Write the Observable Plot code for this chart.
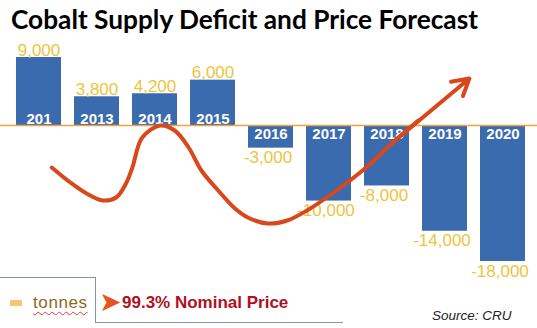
<!DOCTYPE html>
<html><head><meta charset="utf-8">
<script src="https://cdn.jsdelivr.net/npm/d3@7"></script>
<script src="https://cdn.jsdelivr.net/npm/@observablehq/plot@0.6"></script>
<style>
body{margin:0;background:#fff;width:537px;height:328px;overflow:hidden;font-family:"Liberation Sans",Arial,sans-serif;}
#title{position:relative;height:40px;}
#title span{position:absolute;left:11px;top:6px;font-family:Lato,"Open Sans",sans-serif;font-weight:700;font-size:26px;line-height:1;white-space:nowrap;transform-origin:0 0;color:#000;}
#chart{position:relative;height:252px;}
#chart svg{position:absolute;left:0;top:0;}
#legend{position:relative;height:52px;margin-top:-16px;}
#legend .ln{position:absolute;background:#8496A8;}
#legend .t{position:absolute;line-height:1;white-space:nowrap;}
</style>
</head><body>
<div id="title"><span>Cobalt Supply Deficit and Price Forecast</span></div>
<div id="chart"></div>
<div id="legend">
  <div class="ln" style="left:0;top:1px;width:95px;height:1px"></div>
  <div class="ln" style="left:95px;top:1px;width:1px;height:46px"></div>
  <div class="ln" style="left:95px;top:46px;width:248px;height:1px"></div>
  <div style="position:absolute;left:10px;top:24px;width:12px;height:6px;background:#F3C772"></div>
  <span class="t" style="left:33px;top:17.6px;font-size:17px;letter-spacing:0.6px;color:#8A6A22;text-decoration:underline wavy #D04040;text-decoration-thickness:1px;text-underline-offset:3px">tonnes</span>
  <span class="t" style="left:99px;top:12px;font-size:27px;color:#E8521E;font-family:'DejaVu Sans'">➤</span>
  <span class="t" style="left:122px;top:17.6px;font-size:17px;font-weight:700;color:#B0101E">99.3% Nominal Price</span>
  <span class="t" style="left:432px;top:32.5px;font-size:13.5px;font-style:italic;color:#222">Source: CRU</span>
</div>
<script>
// Supply balance (tonnes)
const years = ["201","2013","2014","2015","2016","2017","2018","2019","2020"];
const deficit = [9000, 3800, 4200, 6000, -3000, -10000, -8000, -14000, -18000];
// Illustrative nominal price path (position along the years, relative price index)
const pricePos = [0.22,0.54,0.82,1.10,1.33,1.50,1.61,1.78,2.09,2.34,2.58,2.80,3.09,3.36,3.60,3.94,4.28,4.62,5.13,5.64,6.08,6.54,7.42];
const priceIdx = [-3,-18,-29,-36,-33,-19,-3,27,39,34,17,-6,-26,-43,-53,-59,-56,-46,-26,-3,21,44,86];

const fmt = d3.formatLocale({decimal:".",thousands:",",grouping:[3],currency:["",""],minus:"-"}).format(",");
const data = years.map((y,i)=>({year:y,value:deficit[i],label:fmt(deficit[i])}));
const pos = data.filter(d=>d.value>0), neg = data.filter(d=>d.value<0);

const W=537,H=252,MT=17,MB=31;
const gold="#EEC43C", blue="#3B6BAF", red="#D9471C";
const font="Liberation Sans, Arial, sans-serif";

const bars = Plot.plot({
  width:W,height:H,marginTop:MT,marginBottom:MB,marginLeft:0,marginRight:0,
  x:{domain:years,insetLeft:12,insetRight:8,paddingInner:0.22,paddingOuter:0,axis:null},
  y:{domain:[-18000,9000],axis:null},
  style:{fontFamily:font,background:"transparent",overflow:"visible"},
  marks:[
    Plot.barY(data,{x:"year",y:"value",fill:blue}),
    Plot.ruleY([0],{stroke:"#F0A23C",strokeWidth:1.5}),
    Plot.text(pos,{x:"year",y:0,text:"year",lineAnchor:"bottom",dy:-2,fill:"white",fontWeight:"bold",fontSize:15}),
    Plot.text(neg,{x:"year",y:0,text:"year",lineAnchor:"top",dy:3,fill:"white",fontWeight:"bold",fontSize:15}),
    Plot.text(pos,{x:"year",y:"value",text:"label",lineAnchor:"bottom",dy:-2,fill:gold,fontSize:17}),
    Plot.text(neg,{x:"year",y:"value",text:"label",lineAnchor:"top",dy:3,dx:-3,fill:gold,fontSize:17})
  ]
});
document.getElementById("chart").appendChild(bars);

const xs = bars.scale("x");
const c0 = xs.apply(years[0])+xs.bandwidth/2, c1 = xs.apply(years[years.length-1])+xs.bandwidth/2;
const curve = pricePos.map((p,i)=>({p,v:priceIdx[i]}));
const n = curve.length;
const overlay = Plot.plot({
  width:W,height:H,marginTop:MT,marginBottom:MB,marginLeft:0,marginRight:0,
  x:{type:"linear",domain:[0,years.length-1],range:[c0,c1],axis:null},
  y:{domain:[-97,107],axis:null},
  style:{background:"transparent"},
  marks:[
    Plot.line(curve.slice(0,n-1),{x:"p",y:"v",curve:"catmull-rom",stroke:red,strokeWidth:4,strokeLinecap:"round"}),
    Plot.arrow([{a:curve[n-3],b:curve[n-1]}],{x1:d=>d.a.p,y1:d=>d.a.v,x2:d=>d.b.p,y2:d=>d.b.v,stroke:red,strokeWidth:4,headLength:7,headAngle:60})
  ]
});
document.getElementById("chart").appendChild(overlay);

const t = document.querySelector("#title span");
const w = t.getBoundingClientRect().width;
t.style.transform = `scaleX(${467/w})`;
</script>
</body></html>
